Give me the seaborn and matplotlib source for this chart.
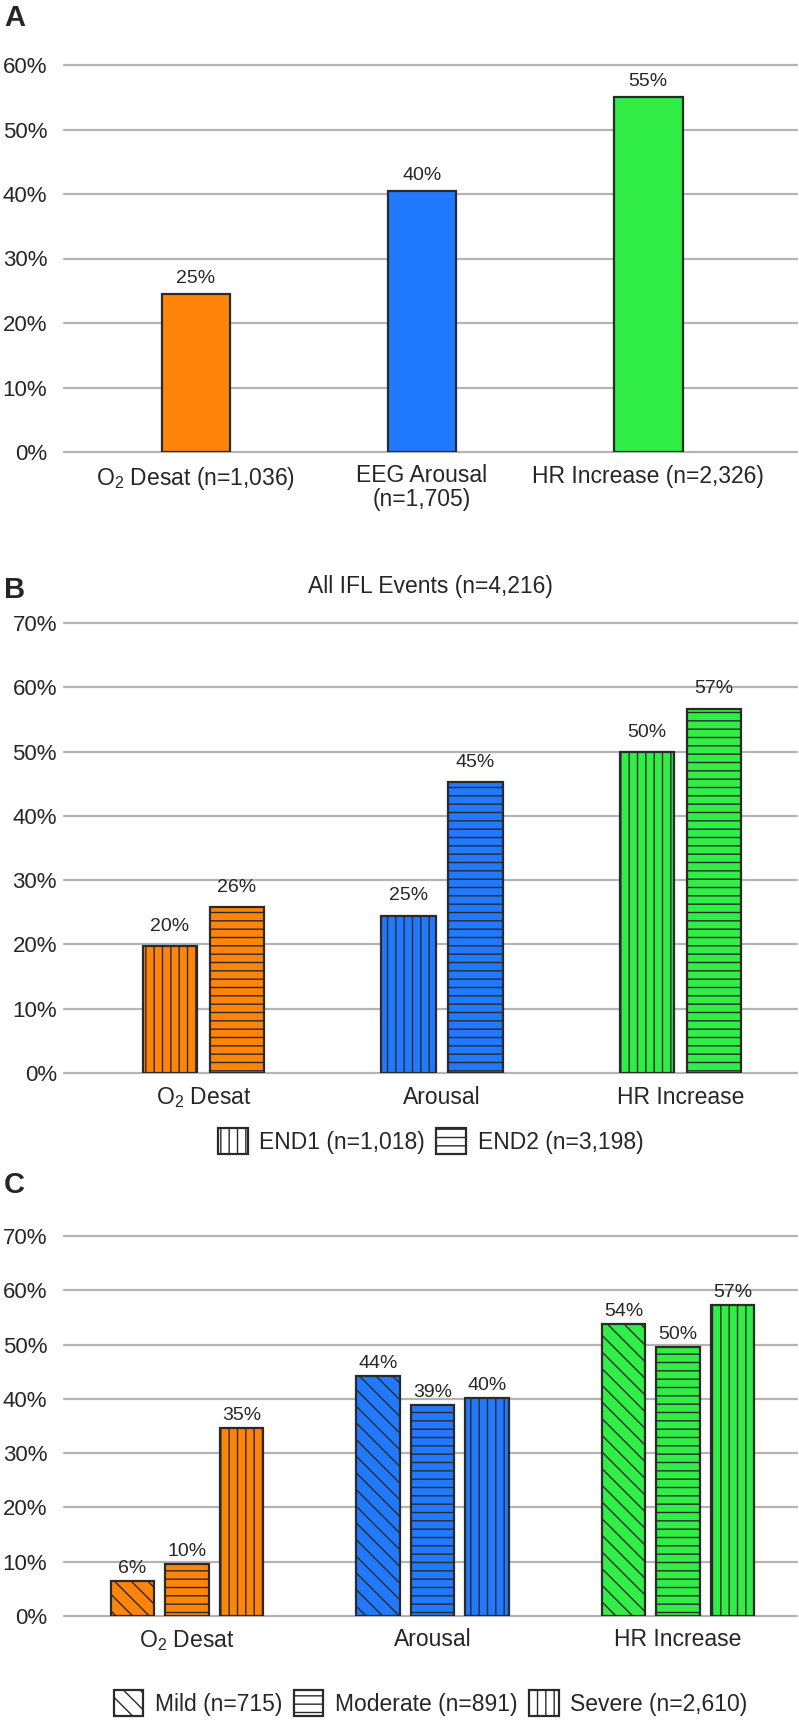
import matplotlib
matplotlib.use("Agg")
import matplotlib.pyplot as plt
from matplotlib import font_manager
from matplotlib.patches import Patch
import seaborn as sns
import pandas as pd

# data
events_a = ["O$_2$ Desat (n=1,036)", "EEG Arousal\n(n=1,705)", "HR Increase (n=2,326)"]
pct_a = [24.5, 40.5, 55.0]
labels_a = ["25%", "40%", "55%"]

events_bc = ["O$_2$ Desat", "Arousal", "HR Increase"]

groups_b = ["END1 (n=1,018)", "END2 (n=3,198)"]
end1_b = [19.7, 24.5, 49.9]
end2_b = [25.8, 45.2, 56.7]
labels_b = [["20%", "25%", "50%"], ["26%", "45%", "57%"]]

groups_c = ["Mild (n=715)", "Moderate (n=891)", "Severe (n=2,610)"]
mild_c = [6.4, 44.2, 53.8]
moderate_c = [9.5, 38.9, 49.6]
severe_c = [34.6, 40.1, 57.3]
labels_c = [["6%", "44%", "54%"], ["10%", "39%", "50%"], ["35%", "40%", "57%"]]

ticks_a = [0, 10, 20, 30, 40, 50, 60]
ticks_bc = [0, 10, 20, 30, 40, 50, 60, 70]

title_b = "All IFL Events (n=4,216)"

colors = ["#FF850A", "#2079FF", "#30EE46"]
edge = "#2a2a2a"
grid_c = "#b4b4b4"

sns.set_theme(style="white")
names = {f.name for f in font_manager.fontManager.ttflist}
narrow = "Liberation Sans Narrow" if "Liberation Sans Narrow" in names else "Liberation Sans"
cat_size = 20 if narrow == "Liberation Sans Narrow" else 16.5
plt.rcParams["font.family"] = ["Liberation Sans", "DejaVu Sans"]
plt.rcParams["mathtext.default"] = "regular"
plt.rcParams["hatch.linewidth"] = 1.0

W, H = 799, 1722
fig = plt.figure(figsize=(W / 100, H / 100), dpi=100)


def axes_px(top, bottom, left=64, right=797):
    return fig.add_axes([left / W, 1 - bottom / H, (right - left) / W, (bottom - top) / H])


def style(ax, ticks, pad, xlim):
    ax.set_ylim(0, ticks[-1])
    ax.set_xlim(*xlim)
    ax.set_yticks(ticks)
    ax.set_yticklabels([f"{t}%" for t in ticks], fontsize=16)
    ax.yaxis.grid(True, color=grid_c, linewidth=1.6)
    for gl in ax.get_ygridlines():
        gl.set_clip_on(False)
    ax.set_axisbelow(True)
    for s in ax.spines.values():
        s.set_visible(False)
    ax.tick_params(axis="y", length=0, pad=pad)
    ax.tick_params(axis="x", length=0, pad=9)
    for t in ax.get_xticklabels():
        t.set_fontfamily([narrow, "DejaVu Sans"])
        t.set_fontsize(cat_size)
        t.set_linespacing(1.05)
    ax.set_xlabel("")
    ax.set_ylabel("")


# ---- panel A
ax_a = axes_px(65, 452)
df_a = pd.DataFrame({"event": events_a, "pct": pct_a})
sns.barplot(data=df_a, x="event", y="pct", hue="event", palette=colors, saturation=1,
            width=0.305, legend=False, edgecolor=edge, linewidth=1.6, ax=ax_a)
style(ax_a, ticks_a, 12, (-0.584, 2.659))
for cont, lab in zip(ax_a.containers, labels_a):
    ax_a.bar_label(cont, labels=[lab], padding=5, fontsize=14)


def grouped(ax, groups, series, labels, hatches, width, gap, padding):
    rows = []
    for g, vals in zip(groups, series):
        for e, v in zip(events_bc, vals):
            rows.append({"event": e, "group": g, "pct": v})
    df = pd.DataFrame(rows)
    sns.barplot(data=df, x="event", y="pct", hue="group", width=width, gap=gap,
                legend=False, edgecolor=edge, linewidth=1.6, ax=ax)
    for i, cont in enumerate(ax.containers):
        for bar in cont:
            j = int(round(bar.get_x() + bar.get_width() / 2))
            bar.set_facecolor(colors[j])
            bar.set_edgecolor(edge)
            bar.set_hatch(hatches[i])
        ax.bar_label(cont, labels=labels[i], padding=padding, fontsize=14)


def legend(groups, hatches, y_px):
    handles = [Patch(facecolor="white", edgecolor=edge, hatch=h, linewidth=1.6) for h in hatches]
    fig.legend(handles, groups, loc="center", bbox_to_anchor=(0.5388, 1 - y_px / H),
               ncol=len(groups), frameon=False, handlelength=1.3, handleheight=1.4,
               handletextpad=0.5, columnspacing=0.5, borderaxespad=0,
               prop={"family": [narrow, "DejaVu Sans"], "size": cat_size})


# ---- panel B
ax_b = axes_px(623, 1073)
hatch_b = ["||", "--"]
grouped(ax_b, groups_b, [end1_b, end2_b], labels_b, hatch_b, 0.562, 0.187, 8)
style(ax_b, ticks_bc, 5, (-0.585, 2.488))
legend(groups_b, hatch_b, 1141)
fig.text(0.5388, 1 - 587 / H, title_b, ha="center", va="center",
         fontsize=cat_size, family=[narrow, "DejaVu Sans"])

# ---- panel C
ax_c = axes_px(1236, 1616)
hatch_c = ["\\\\", "--", "||"]
grouped(ax_c, groups_c, [mild_c, moderate_c, severe_c], labels_c, hatch_c, 0.666, 0.203, 3)
style(ax_c, ticks_bc, 12, (-0.501, 2.485))
legend(groups_c, hatch_c, 1703)

# panel letters
for letter, y in [("A", 18), ("B", 590), ("C", 1185)]:
    fig.text(4 / W, 1 - y / H, letter, ha="left", va="center", fontsize=21, fontweight="bold")

fig.savefig("out.png", dpi=100)
